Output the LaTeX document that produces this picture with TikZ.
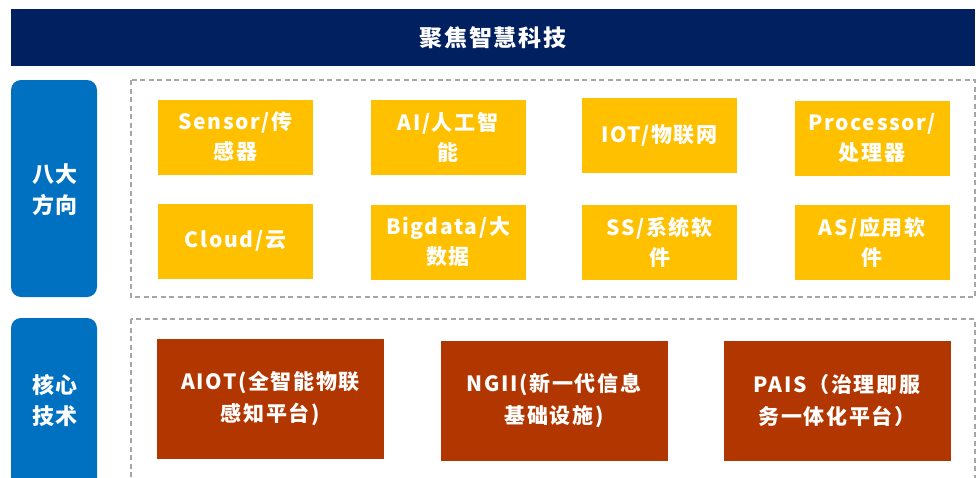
\documentclass[tikz,border=0pt]{standalone}
\usepackage{fontspec}
\setmainfont{Noto Sans CJK SC}[LetterSpace=8]
\usetikzlibrary{positioning}

\definecolor{navy}{HTML}{002060}
\definecolor{sideblue}{HTML}{0070C0}
\definecolor{gold}{HTML}{FFC000}
\definecolor{rust}{HTML}{B23600}
\definecolor{dashgray}{HTML}{A6A6A6}

\tikzset{
    side/.style={fill=sideblue, rounded corners=10pt, text=white, align=center,
        font=\bfseries\fontsize{22}{31}\selectfont, inner sep=0pt},
    frame/.style={draw=dashgray, line width=1.3pt, dash pattern=on 5pt off 3.5pt},
    goldbox/.style={fill=gold, text=white, align=center, inner sep=0pt,
        minimum width=155pt, minimum height=75pt, font=\bfseries\fontsize{21}{30}\selectfont},
    rustbox/.style={fill=rust, text=white, align=center, inner sep=0pt,
        minimum width=227pt, minimum height=120pt, font=\bfseries\fontsize{21}{32}\selectfont}
}

\begin{document}
\begin{tikzpicture}[x=1pt, y=-1pt]
    \useasboundingbox (0,0) rectangle (978,477);

    \fill[navy] (11,9) rectangle (975,66);
    \node[text=white, font=\bfseries\fontsize{23}{28}\selectfont] (title) at (493,38) {聚焦智慧科技};

    % eight directions
    \coordinate (dirs) at (11,80);
    \fill[sideblue, rounded corners=10pt] (dirs) rectangle ++(86,217);
    \node[side] (dirlabel) at (55,190) {八大\\方向};
    \draw[frame] (dirs) ++(120,0) rectangle (975,297);

    \node[goldbox] (sensor) at (235.5,137) {Sensor/传\\感器};
    \node[goldbox] (ai) at (448,137) {AI/人工智\\能};
    \node[goldbox] (iot) at (659.5,135.5) {IOT/物联网};
    \node[goldbox] (proc) at (872,138) {Processor/\\处理器};

    \node[goldbox] (cloud) at (235.5,241) {Cloud/云};
    \node[goldbox] (bigdata) at (448,242) {Bigdata/大\\数据};
    \node[goldbox] (ss) at (659.5,242) {SS/系统软\\件};
    \node[goldbox] (as) at (872,242) {AS/应用软\\件};

    % core tech
    \coordinate (core) at (11,318);
    \fill[sideblue, rounded corners=10pt] (core) rectangle ++(86,180);
    \node[side] (corelabel) at (55,401) {核心\\技术};
    \draw[frame] (core) ++(120,1) rectangle (975,500);

    \node[rustbox] (aiot) at (270.5,398.5) {AIOT(全智能物联\\感知平台)};
    \node[rustbox] (ngii) at (554,400.5) {NGII(新一代信息\\基础设施)};
    \node[rustbox] (pais) at (837,400.5) {PAIS（治理即服\\务一体化平台）};
\end{tikzpicture}
\end{document}
